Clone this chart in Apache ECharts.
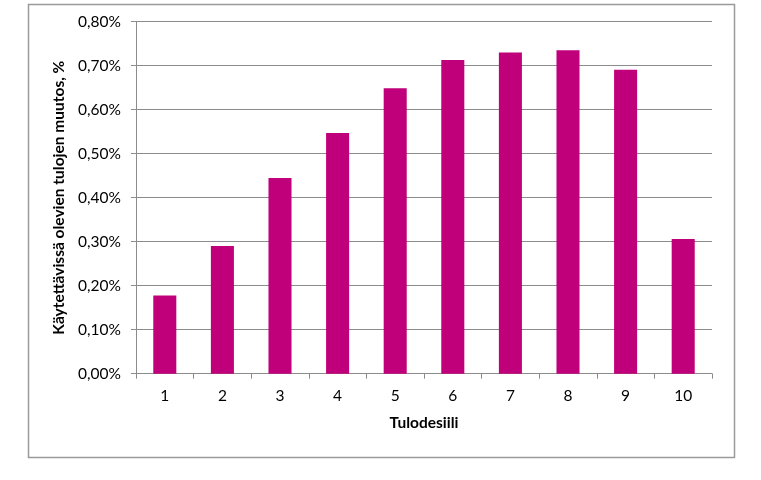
<!DOCTYPE html>
<html>
<head>
<meta charset="utf-8">
<script src="https://cdn.jsdelivr.net/npm/echarts@6/dist/echarts.min.js"></script>
<style>
html,body{margin:0;padding:0;background:#fff;}
#c{width:761px;height:480px;}
</style>
</head>
<body>
<div id="c"></div>
<script>
var categories = ['1','2','3','4','5','6','7','8','9','10'];
var values = [0.178, 0.290, 0.445, 0.547, 0.649, 0.713, 0.730, 0.735, 0.691, 0.306];
var yTicks = [0, 0.1, 0.2, 0.3, 0.4, 0.5, 0.6, 0.7, 0.8];
var xTitle = 'Tulodesiili';
var yTitle = 'Käytettävissä olevien tulojen muutos, %';

var FONT = 'Lato, "Open Sans", sans-serif';
var chart = echarts.init(document.getElementById('c'), null, {renderer:'canvas'});
chart.setOption({
  animation:false,
  backgroundColor:'#fff',
  graphic:[{
    type:'rect', left:26, top:2, silent:true,
    shape:{width:706, height:453},
    style:{fill:'none', stroke:'#9a9a9a', lineWidth:1.5}
  }],
  grid:{left:136, right:49, top:21.7, bottom:106.3, containLabel:false},
  xAxis:{
    type:'category', data:categories,
    name:xTitle, nameLocation:'middle', nameGap:41,
    nameTextStyle:{fontFamily:FONT, fontWeight:'bold', fontSize:15.5, color:'#000'},
    axisLine:{lineStyle:{color:'#8c8c8c', width:1}},
    axisTick:{show:true, length:5, alignWithLabel:false, lineStyle:{color:'#8c8c8c'}},
    axisLabel:{fontFamily:FONT, fontSize:15.5, color:'#000', margin:14}
  },
  yAxis:{
    type:'value', min:0, max:0.8, interval:0.1,
    name:yTitle, nameLocation:'middle', nameGap:60, nameRotate:90,
    nameTextStyle:{fontFamily:FONT, fontWeight:'bold', fontSize:15.5, color:'#000'},
    axisLine:{show:true, lineStyle:{color:'#8c8c8c', width:1}},
    axisTick:{show:true, length:5, lineStyle:{color:'#8c8c8c'}},
    splitLine:{show:true, lineStyle:{color:'#8c8c8c', width:1}},
    axisLabel:{fontFamily:FONT, fontSize:15.5, color:'#000', margin:15,
      formatter:function(v){ return v.toFixed(2).replace('.', ',') + '%'; }}
  },
  series:[{
    type:'bar', data:values, barWidth:'40%',
    itemStyle:{color:'#c0007a'}
  }]
});
</script>
</body>
</html>
